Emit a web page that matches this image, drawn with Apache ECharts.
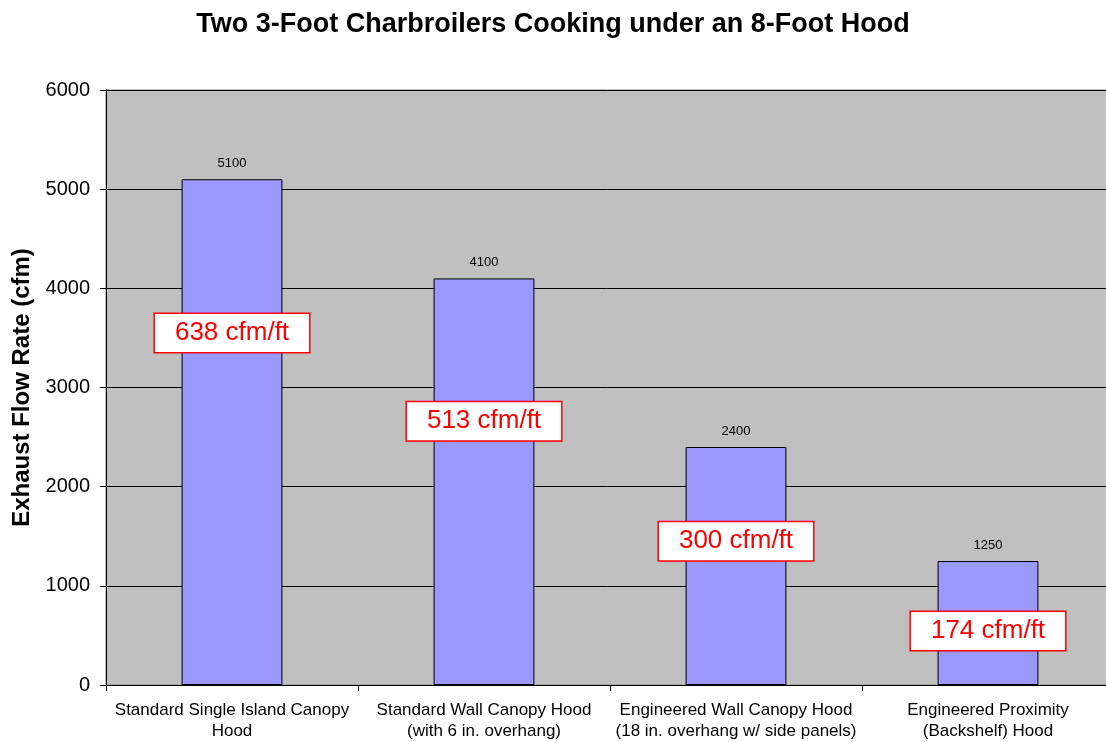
<!DOCTYPE html>
<html>
<head>
<meta charset="utf-8">
<script src="https://cdn.jsdelivr.net/npm/echarts@6/dist/echarts.min.js"></script>
<style>html,body{margin:0;padding:0;background:#fff;}#c{width:1106px;height:742px;}</style>
</head>
<body>
<div id="c"></div>
<script>
const categories = [
  'Standard Single Island Canopy\nHood',
  'Standard Wall Canopy Hood\n(with 6 in. overhang)',
  'Engineered Wall Canopy Hood\n(18 in. overhang w/ side panels)',
  'Engineered Proximity\n(Backshelf) Hood'
];
const flowRates = [5100, 4100, 2400, 1250];
const perFootLabels = ['638 cfm/ft', '513 cfm/ft', '300 cfm/ft', '174 cfm/ft'];
const perFootLabelY = [3550, 2660, 1450, 545];
const yTicks = [0, 1000, 2000, 3000, 4000, 5000, 6000];

const chart = echarts.init(document.getElementById('c'), null, {renderer: 'canvas'});
const FONT = 'Liberation Sans, Arial, sans-serif';
chart.setOption({
  animation: false,
  textStyle: {fontFamily: FONT, color: '#000'},
  title: {
    text: 'Two 3-Foot Charbroilers Cooking under an 8-Foot Hood',
    left: 'center', top: 6,
    textStyle: {fontFamily: FONT, fontSize: 27, fontWeight: 'bold', color: '#000'}
  },
  grid: {
    left: 106, top: 90, width: 1008, height: 595,
    outerBoundsMode: 'none', containLabel: false,
    show: true, backgroundColor: '#C0C0C0', borderColor: '#808080', borderWidth: 1
  },
  xAxis: {
    type: 'category',
    data: categories,
    axisLine: {lineStyle: {color: '#000', width: 1}},
    axisTick: {show: true, length: 6, lineStyle: {color: '#000'}},
    axisLabel: {interval: 0, fontSize: 17, lineHeight: 21, margin: 15, color: '#000', fontFamily: FONT}
  },
  yAxis: {
    type: 'value',
    min: yTicks[0], max: yTicks[yTicks.length - 1], interval: 1000,
    name: 'Exhaust Flow Rate (cfm)',
    nameLocation: 'middle', nameGap: 72,
    nameTextStyle: {fontSize: 24, fontWeight: 'bold', color: '#000', fontFamily: FONT},
    axisLine: {show: true, lineStyle: {color: '#000', width: 1}},
    axisTick: {show: true, length: 6, lineStyle: {color: '#000'}},
    axisLabel: {fontSize: 20, color: '#000', margin: 16, fontFamily: FONT, formatter: v => String(v)},
    splitLine: {show: true, lineStyle: {color: '#000', width: 1}}
  },
  series: [
    {
      type: 'bar',
      data: flowRates,
      barWidth: '40%',
      itemStyle: {color: '#9999FF', borderColor: '#000', borderWidth: 1},
      label: {show: true, position: 'top', distance: 9, fontSize: 13, color: '#000', fontFamily: FONT}
    },
    {
      type: 'scatter',
      data: perFootLabelY.map((v, i) => [i, v]),
      symbolSize: 1,
      itemStyle: {color: 'rgba(0,0,0,0)', opacity: 1},
      z: 10,
      emphasis: {disabled: true},
      label: {
        show: true, position: 'inside', opacity: 1,
        formatter: p => perFootLabels[p.dataIndex],
        fontSize: 26, lineHeight: 28, color: '#FF0000', fontFamily: FONT,
        backgroundColor: '#FFFFFF', borderColor: '#FF0000', borderWidth: 1.5,
        padding: [5, 20, 5, 20]
      }
    }
  ]
});
</script>
</body>
</html>
